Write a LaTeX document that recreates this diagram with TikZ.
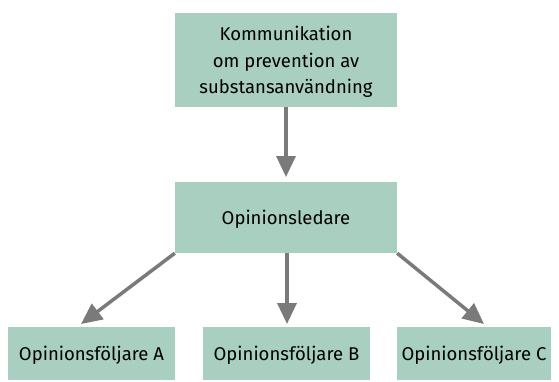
\documentclass[tikz,border=0pt]{standalone}
\usepackage{fontspec}
\setmainfont{Fira Sans}
\usepackage{xcolor}
\usepackage{tikz}
\usetikzlibrary{arrows.meta,shapes,positioning}

\definecolor{boxgreen}{RGB}{168,207,192}
\definecolor{arrowgray}{RGB}{122,122,122}

\begin{document}
\begin{tikzpicture}[x=1pt, y=-1pt, every node/.style={font=\fontsize{18.5}{26.5}\selectfont},
    box/.style={fill=boxgreen, draw=none, align=center, inner sep=0pt, text depth=0pt},
    arr/.style={draw=arrowgray, line width=3.5pt, -{Triangle[length=21pt,width=19pt]}}]
        \useasboundingbox (0,0) rectangle (559,381);
        % boxes
        \node[box, minimum width=222pt, minimum height=94pt] (komm) at (286,60)
        {Kommunikation\\om prevention av\\substansanvändning};
        \node[box, minimum width=222pt, minimum height=71pt] (led) at (286,217.5) {Opinionsledare};
        \node[box, minimum width=167pt, minimum height=53pt] (folA) at (91.5,353.5) {Opinionsföljare A};
        \node[box, minimum width=167pt, minimum height=53pt] (folB) at (286.5,353.5) {Opinionsföljare B};
        \node[box, minimum width=154pt, minimum height=53pt] (folC) at (474,353.5) {Opinionsföljare C};
        % arrow tips
        \coordinate (tipL) at (286,177);
        \coordinate (tipA) at (81,324);
        \coordinate (tipB) at (287,324);
        \coordinate (tipC) at (484,324);
        % arrows
        \draw[arr] (komm.south) -- (tipL);
        \draw[arr] (led.south west) -- (tipA);
        \draw[arr] (led.south -| tipB) -- (tipB);
        \draw[arr] (led.south east) -- (tipC);
    \end{tikzpicture}
\end{document}
